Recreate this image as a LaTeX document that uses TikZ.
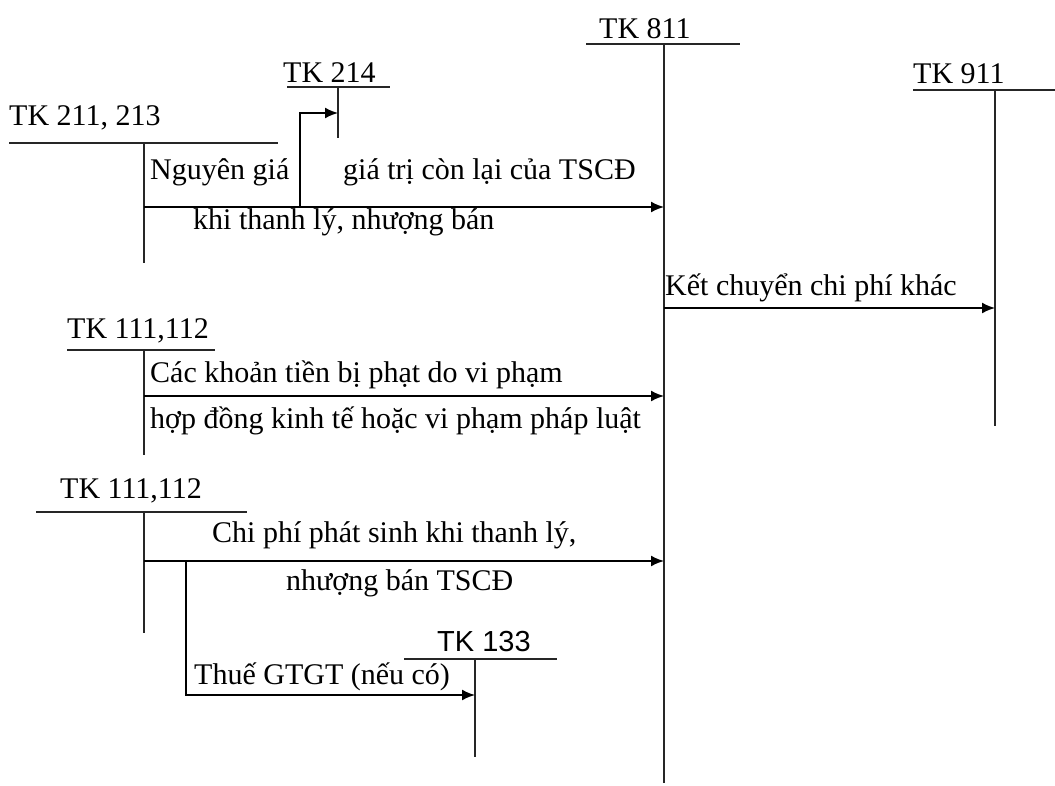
\documentclass[tikz,border=0pt]{standalone}
\usepackage{fontspec}
\setmainfont{Liberation Serif}
\newfontfamily\sansf{Liberation Sans}
\usetikzlibrary{arrows.meta}

\begin{document}
\begin{tikzpicture}[x=1pt, y=-1pt,
  acc/.style={line width=1.8pt, black!85},
  arr/.style={-{Latex[length=13pt,width=11pt]}, line width=1.8pt},
  lbl/.style={inner sep=0pt, anchor=base west, font=\fontsize{30}{33}\selectfont}]
\useasboundingbox (0,0) rectangle (1055,785);

% T accounts
\node[lbl] (tk811) at (599,38) {TK 811};
\coordinate (v811) at (664,44);
\draw[acc] (586,44) -- (740,44);
\draw[acc] (v811) -- (664,783);

\node[lbl] (tk911) at (913,83) {TK 911};
\coordinate (v911) at (995,90);
\draw[acc] (913,90) -- (1055,90);
\draw[acc] (v911) -- (995,426);

\node[lbl] (tk214) at (283,82) {TK 214};
\coordinate (v214) at (338,87);
\draw[acc] (287,87) -- (390,87);
\draw[acc] (v214) -- (338,138);

\node[lbl] (tk211) at (9,125) {TK 211, 213};
\coordinate (v211) at (144,143);
\draw[acc] (9,143) -- (278,143);
\draw[acc] (v211) -- (144,263);

\node[lbl] (tk111a) at (67,338) {TK 111,112};
\coordinate (v111a) at (144,350);
\draw[acc] (67,350) -- (215,350);
\draw[acc] (v111a) -- (144,455);

\node[lbl] (tk111b) at (60,498) {TK 111,112};
\coordinate (v111b) at (144,512);
\draw[acc] (36,512) -- (247,512);
\draw[acc] (v111b) -- (144,633);

\node[lbl, font=\fontsize{29}{32}\sansf] (tk133) at (437,651) {TK 133};
\coordinate (v133) at (475,659);
\draw[acc] (404,659) -- (557,659);
\draw[acc] (v133) -- (475,757);

% connectors
\coordinate (s211) at (144,207);
\coordinate (r214) at (300,207);
\coordinate (k214) at (300,113);
\coordinate (s811) at (664,308);
\coordinate (s111a) at (144,396);
\coordinate (s111b) at (144,561);
\coordinate (r133) at (186,561);
\coordinate (e133) at (186,695);
\draw[arr] (s211) -- (s211 -| v811);
\draw[arr] (r214) -- (k214) -- (k214 -| v214);
\draw[arr] (s811) -- (s811 -| v911);
\draw[arr] (s111a) -- (s111a -| v811);
\draw[arr] (s111b) -- (s111b -| v811);
\draw[arr] (r133) -- (e133) -- (e133 -| v133);

% labels
\node[lbl] (ng) at (150,179) {Nguyên giá};
\node[lbl] (gtcl) at (343,179) {giá trị còn lại của TSCĐ};
\node[lbl] (ktl) at (193,229) {khi thanh lý, nhượng bán};
\node[lbl] (kc) at (665,295) {Kết chuyển chi phí khác};
\node[lbl] (ph1) at (150,382) {Các khoản tiền bị phạt do vi phạm};
\node[lbl] (ph2) at (150,428) {hợp đồng kinh tế hoặc vi phạm pháp luật};
\node[lbl] (cp1) at (212,542) {Chi phí phát sinh khi thanh lý,};
\node[lbl] (cp2) at (286,590) {nhượng bán TSCĐ};
\node[lbl] (vat) at (194,684) {Thuế GTGT (nếu có)};
\end{tikzpicture}
\end{document}
